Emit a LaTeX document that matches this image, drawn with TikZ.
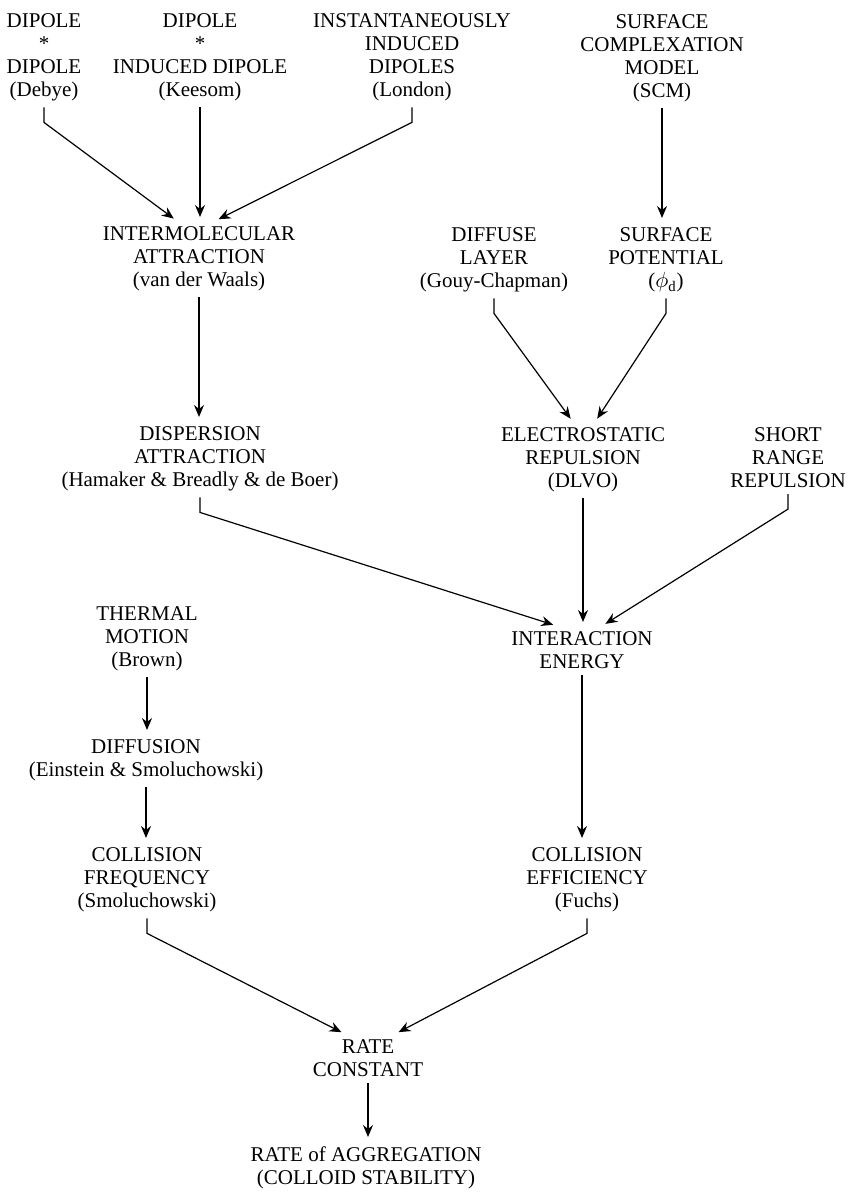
\documentclass[tikz,border=0pt]{standalone}
\usepackage{fontspec}
\setmainfont{Liberation Serif}
\usepackage{tikz}
\usetikzlibrary{calc,arrows.meta}

\begin{document}
\begin{tikzpicture}[x=0.5pt, y=-0.5pt,
    lbl/.style={align=center, inner sep=0pt, outer xsep=0pt, outer ysep=3pt,
                font=\fontsize{10.5pt}{11.5pt}\selectfont},
    arr/.style={line width=0.6pt, shorten >=2pt,
                -{Stealth[length=6pt, width=5pt, inset=2pt]}}]
  \useasboundingbox (0,0) rectangle (850,1192);
  % top row
  \node[lbl, anchor=north] (debye) at (44,8) {DIPOLE\\*\\DIPOLE\\(Debye)};
  \node[lbl, anchor=north] (keesom) at (200,8) {DIPOLE\\*\\INDUCED DIPOLE\\(Keesom)};
  \node[lbl, anchor=north] (london) at (412,8) {INSTANTANEOUSLY\\INDUCED\\DIPOLES\\(London)};
  \node[lbl, anchor=north] (scm) at (662,9) {SURFACE\\COMPLEXATION\\MODEL\\(SCM)};
  % second row
  \node[lbl, anchor=north] (vdw) at (199,221) {INTERMOLECULAR\\ATTRACTION\\(van der Waals)};
  \node[lbl, anchor=north] (gouy) at (494,222) {DIFFUSE\\LAYER\\(Gouy-Chapman)};
  \node[lbl, anchor=north] (phi) at (666,222) {SURFACE\\POTENTIAL\\(\ensuremath{\phi_{\mathrm{d}}})};
  % third row
  \node[lbl, anchor=north] (disp) at (200,421) {DISPERSION\\ATTRACTION\\(Hamaker \& Breadly \& de Boer)};
  \node[lbl, anchor=north] (elec) at (583,422) {ELECTROSTATIC\\REPULSION\\(DLVO)};
  \node[lbl, anchor=north] (short) at (788,422) {SHORT\\RANGE\\REPULSION};
  % lower part
  \node[lbl, anchor=north] (thermal) at (147,601) {THERMAL\\MOTION\\(Brown)};
  \node[lbl, anchor=north] (inter) at (582,626) {INTERACTION\\ENERGY};
  \node[lbl, anchor=north] (diff) at (146,734) {DIFFUSION\\(Einstein \& Smoluchowski)};
  \node[lbl, anchor=north] (freq) at (147,842) {COLLISION\\FREQUENCY\\(Smoluchowski)};
  \node[lbl, anchor=north] (eff) at (587,842) {COLLISION\\EFFICIENCY\\(Fuchs)};
  \node[lbl, anchor=north] (rate) at (368,1034) {RATE\\CONSTANT};
  \node[lbl, anchor=north] (agg) at (366,1141) {RATE of AGGREGATION\\(COLLOID STABILITY)};

  % straight arrows
  \foreach \a/\b in {keesom/vdw, scm/phi, vdw/disp, elec/inter, thermal/diff,
                     diff/freq, inter/eff, rate/agg}{
    \draw[arr] (\a.south) -- (\a.south |- \b.north);
  }
  % arrows with a short stub
  \foreach \a/\b/\dx in {debye/vdw/-22, london/vdw/16, gouy/elec/-10, phi/elec/12,
                         disp/inter/-25, short/inter/20, freq/rate/-23, eff/rate/27}{
    \draw[arr] (\a.south) -- ++(0,15) -- ($(\b.north)+(\dx,0)$);
  }
\end{tikzpicture}
\end{document}
